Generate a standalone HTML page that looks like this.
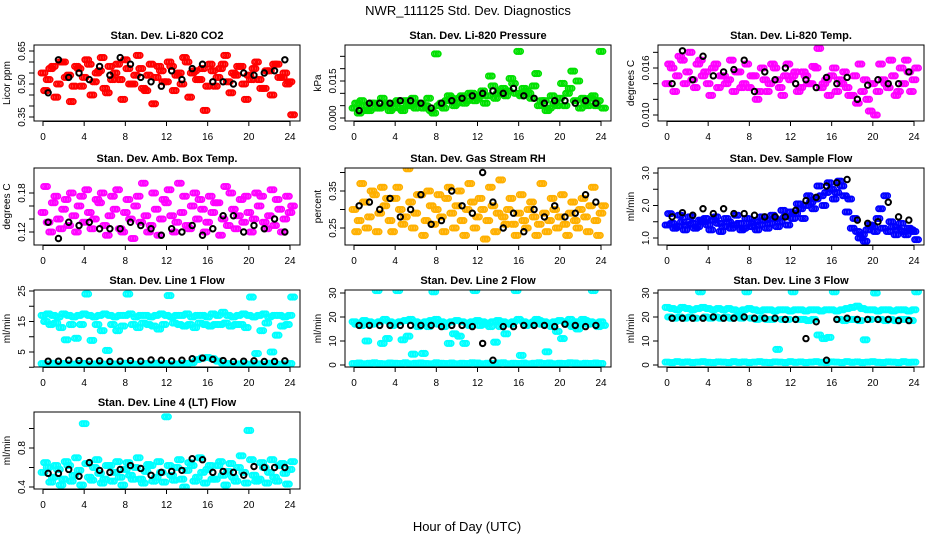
<!DOCTYPE html>
<html><head><meta charset="utf-8"><style>
html,body{margin:0;padding:0;background:#fff}
svg{display:block;font-family:"Liberation Sans",sans-serif}
</style></head><body>
<svg id="chart" width="936" height="540" viewBox="0 0 936 540" xmlns="http://www.w3.org/2000/svg">
<rect width="936" height="540" fill="#fff"/>
<text x="468" y="15" text-anchor="middle" font-size="13">NWR_111125  Std. Dev. Diagnostics</text>
<text x="467" y="531" text-anchor="middle" font-size="13">Hour of Day (UTC)</text>
</svg>
<script>
const xTicks=[0,4,8,12,16,20,24];
const titles=["Stan. Dev. Li-820 CO2","Stan. Dev. Li-820 Pressure","Stan. Dev. Li-820 Temp.","Stan. Dev. Amb. Box Temp.","Stan. Dev. Gas Stream RH","Stan. Dev. Sample Flow","Stan. Dev. Line 1 Flow","Stan. Dev. Line 2 Flow","Stan. Dev. Line 3 Flow","Stan. Dev. Line 4 (LT) Flow"];
const yTitles=["Licor ppm","kPa","degrees C","degrees C","percent","ml/min","ml/min","ml/min","ml/min","ml/min"];
const yTickVals=[[0.35,0.40,0.45,0.50,0.55,0.60,0.65],[0,0.005,0.010,0.015,0.020,0.025],[0.010,0.012,0.014,0.016,0.018],[0.12,0.14,0.16,0.18],[0.25,0.30,0.35,0.40],[1.0,1.5,2.0,2.5,3.0],[0,5,10,15,20,25],[0,10,20,30],[0,10,20,30],[0.4,0.6,0.8,1.0]];
const yTickLabels=[["0.35","","","0.50","","","0.65"],["0.000","","","0.015","",""],["0.010","","","0.016",""],["0.12","","","0.18"],["0.25","","0.35",""],["1.0","","2.0","","3.0"],["","5","","15","","25"],["0","10","20","30"],["0","10","20","30"],["0.4","","0.8",""]];
const colors=["#ff0000","#00e000","#ff00ff","#ff00ff","#ffb000","#0000ff","#00ffff","#00ffff","#00ffff","#00ffff"];
// colored series A/B/C: t = 0..24 step 0.5 ; black: t = 0.5..23.5 hourly
const seriesA=[
[0.55,0.52,0.58,0.50,0.60,0.54,0.49,0.57,0.53,0.59,0.51,0.56,0.48,0.58,0.55,0.52,0.61,0.50,0.54,0.57,0.47,0.59,0.53,0.56,0.51,0.58,0.54,0.50,0.60,0.55,0.52,0.57,0.49,0.56,0.53,0.59,0.51,0.55,0.58,0.50,0.54,0.57,0.52,0.48,0.56,0.59,0.53,0.55,0.51],
[0.004,0.002,0.005,0.003,0.006,0.004,0.005,0.003,0.006,0.004,0.007,0.005,0.004,0.006,0.005,0.003,0.026,0.006,0.007,0.008,0.006,0.009,0.007,0.010,0.008,0.011,0.009,0.013,0.010,0.012,0.011,0.014,0.027,0.012,0.010,0.013,0.005,0.007,0.004,0.006,0.008,0.005,0.012,0.007,0.004,0.006,0.008,0.005,0.027],
[0.0140,0.0160,0.0150,0.0170,0.0155,0.0145,0.0165,0.0150,0.0140,0.0160,0.0135,0.0150,0.0145,0.0130,0.0155,0.0140,0.0135,0.0150,0.0130,0.0145,0.0140,0.0160,0.0135,0.0150,0.0145,0.0155,0.0135,0.0150,0.0140,0.0160,0.0135,0.0145,0.0150,0.0130,0.0140,0.0135,0.0125,0.0115,0.0130,0.0120,0.0140,0.0130,0.0145,0.0135,0.0150,0.0130,0.0140,0.0155,0.0145],
[0.150,0.135,0.165,0.140,0.155,0.130,0.145,0.160,0.135,0.150,0.140,0.165,0.130,0.145,0.155,0.125,0.150,0.140,0.160,0.135,0.145,0.130,0.155,0.140,0.165,0.145,0.135,0.150,0.130,0.160,0.140,0.155,0.135,0.150,0.165,0.140,0.130,0.155,0.145,0.135,0.150,0.140,0.160,0.135,0.145,0.130,0.155,0.140,0.150],
[0.30,0.27,0.32,0.28,0.34,0.29,0.31,0.27,0.33,0.30,0.28,0.32,0.29,0.34,0.27,0.31,0.30,0.28,0.33,0.29,0.31,0.27,0.30,0.32,0.28,0.30,0.27,0.31,0.29,0.28,0.30,0.26,0.29,0.27,0.30,0.28,0.26,0.29,0.27,0.30,0.28,0.26,0.29,0.27,0.30,0.28,0.31,0.27,0.29],
[1.40,1.45,1.35,1.50,1.40,1.45,1.35,1.50,1.40,1.55,1.45,1.35,1.50,1.40,1.45,1.30,1.45,1.50,1.40,1.55,1.45,1.60,1.50,1.65,1.80,1.75,1.90,2.00,2.10,2.20,2.30,2.40,2.50,2.40,2.60,1.80,1.30,1.20,1.10,1.25,1.35,1.60,1.30,1.20,1.35,1.25,1.20,1.30,1.20],
[17,17.5,17,16.5,17.5,17,16.5,17,17.5,17,16.5,17,17.5,17,16.5,17,17,17.5,16.5,17,17,16.5,17,17.5,17,16.5,17,17,17.5,16.5,17,17,16.5,17.5,17,18,17,16.5,17,17.5,17,16.5,17,17.5,16.5,17,17,16.5,17],
[18,17.5,18.5,18,17.5,18,19,18,17.5,18,18.5,19,18,17.5,18,18.5,19,18,17.5,18,18.5,18,17.5,18,18.5,18,17.5,18,18.5,18,17.5,18,19,18,17.5,18,18.5,18,17.5,18,18.5,18,19,18,17.5,18.5,18,17.5,18],
[24,23.5,23,24,23.5,23,23.5,24,23.5,23,23.5,23,23.5,23,22.5,23,23.5,23,22.5,23,23,22.5,23,23,22.5,23,23,22.5,23,23,22.5,23,23,22.5,23,23.5,24,24.5,23.5,23,23,22.5,23,23,22.5,23,23,22.5,23],
[0.55,0.60,0.50,0.58,0.48,0.62,0.52,0.57,1.05,0.50,0.60,0.54,0.48,0.62,0.55,0.50,0.58,0.52,0.60,0.48,0.56,0.62,0.50,0.55,1.12,0.52,0.60,0.48,0.57,0.62,0.50,0.55,0.58,0.48,0.62,0.52,0.56,0.50,0.60,0.55,0.98,0.52,0.48,0.60,0.55,0.50,0.62,0.54,0.58]];
const seriesB=[
[0.47,0.57,0.44,0.60,0.53,0.42,0.58,0.49,0.61,0.45,0.55,0.62,0.46,0.52,0.59,0.43,0.57,0.50,0.63,0.48,0.54,0.41,0.58,0.51,0.60,0.47,0.55,0.62,0.44,0.56,0.52,0.38,0.59,0.49,0.57,0.63,0.46,0.54,0.58,0.43,0.52,0.60,0.48,0.56,0.45,0.59,0.53,0.50,0.36],
[0.006,0.007,0.003,0.006,0.004,0.008,0.006,0.004,0.007,0.003,0.005,0.008,0.006,0.004,0.008,0.002,0.005,0.004,0.009,0.005,0.008,0.006,0.010,0.007,0.009,0.006,0.017,0.008,0.011,0.009,0.016,0.010,0.009,0.011,0.008,0.018,0.007,0.003,0.009,0.005,0.014,0.010,0.019,0.015,0.008,0.005,0.009,0.007,0.004],
[0.0165,0.0130,0.0175,0.0140,0.0180,0.0135,0.0170,0.0155,0.0125,0.0165,0.0150,0.0140,0.0170,0.0155,0.0135,0.0165,0.0150,0.0120,0.0160,0.0130,0.0165,0.0145,0.0125,0.0165,0.0150,0.0130,0.0155,0.0140,0.0162,0.0185,0.0140,0.0125,0.0160,0.0145,0.0155,0.0125,0.0150,0.0165,0.0145,0.0105,0.0100,0.0165,0.0140,0.0170,0.0125,0.0160,0.0170,0.0130,0.0160],
[0.190,0.120,0.175,0.125,0.170,0.180,0.120,0.175,0.185,0.125,0.170,0.180,0.115,0.175,0.185,0.120,0.170,0.110,0.175,0.195,0.120,0.180,0.115,0.170,0.185,0.120,0.195,0.175,0.125,0.180,0.170,0.120,0.175,0.165,0.115,0.190,0.180,0.125,0.170,0.175,0.120,0.180,0.175,0.125,0.185,0.170,0.120,0.175,0.160],
[0.24,0.37,0.25,0.35,0.24,0.36,0.33,0.24,0.36,0.26,0.41,0.25,0.34,0.23,0.35,0.26,0.34,0.24,0.36,0.25,0.35,0.23,0.37,0.25,0.33,0.22,0.36,0.24,0.38,0.26,0.33,0.23,0.34,0.25,0.32,0.23,0.37,0.24,0.33,0.25,0.34,0.23,0.32,0.25,0.33,0.24,0.36,0.23,0.31],
[1.75,1.30,1.70,1.25,1.65,1.30,1.55,1.60,1.25,1.65,1.20,1.60,1.30,1.70,1.25,1.60,1.35,1.25,1.65,1.30,1.70,1.35,1.85,1.40,1.60,2.05,1.60,2.30,1.90,2.60,2.00,2.70,2.20,2.75,2.30,2.20,1.60,1.00,0.90,1.40,1.20,1.90,2.30,1.50,1.10,1.45,1.10,1.25,0.95],
[15,14,14.5,13,9,14,9.5,14,24,8.8,14,12,5.5,14,12,13.5,24,14,13,14.5,14,13.5,12.5,14,23.5,14.5,14,13.5,14,13,14.5,14,13.5,14,14,14.5,13.5,14,14,13,23,4.5,12,14.5,5,10.5,13.5,14,23],
[17,16.5,10,17,31,9,11,16.5,31,10.5,12,4.5,16,4.8,16,30.5,17,16,9,13,12,9,16.5,31,16.5,17,16,9.5,16,13,17,31,4,16.5,17,19,17,5.5,16,14,11,17,16,15,19,17,31,16,16.5],
[20,19.5,20,19.5,20,19.5,30.5,20,19.5,20,19.5,20,19.5,20,19.5,30.5,19.5,19,19.5,19,19,6.5,19,19,30.5,19,19,18.5,19,12.5,11,11.5,30.5,19,18.5,19,19,18.5,10.5,19,30,19,18.5,19,18.5,19,19,18.5,30.5],
[0.65,0.45,0.62,0.42,0.66,0.46,0.70,0.42,0.64,0.47,0.68,0.44,0.62,0.46,0.66,0.42,0.65,0.48,0.70,0.44,0.63,0.46,0.66,0.45,0.62,0.47,0.68,0.40,0.65,0.46,0.70,0.44,0.62,0.48,0.66,0.42,0.64,0.46,0.72,0.44,0.68,0.46,0.65,0.44,0.68,0.46,0.64,0.43,0.66]];
const seriesC=[null,null,null,null,null,null,
[1.2,1,1.3,1,1.2,1.1,1,1.3,1.2,1,1.1,1.3,1,1.2,1.1,1,1.3,1.2,1,1.1,1.2,1,1.3,1.1,1.2,1,1.1,1.3,1.2,1.5,2.5,3,3.2,2.8,2,1.3,1.2,1,1.1,1.3,1,1.2,1.1,1,1.3,1.2,1,1.1,1.2],
[0.6,0.8,0.5,0.7,0.9,0.6,0.5,0.8,0.7,0.6,0.9,0.5,0.7,0.8,0.6,0.5,0.9,0.7,0.6,0.8,0.5,0.7,0.6,0.9,0.8,0.5,0.7,0.6,0.8,0.9,0.5,0.7,0.6,0.8,0.5,0.7,0.9,0.6,0.8,0.5,0.7,0.6,0.9,0.8,0.5,0.7,0.6,0.8,0.6],
[1.2,1,1.4,1.1,1.3,1,1.2,1.4,1.1,1,1.3,1.2,1,1.4,1.1,1.3,1,1.2,1.4,1.1,1,1.3,1.2,1,1.4,1.1,1.3,1,1.2,1.4,1.1,1,1.3,1.2,1,1.4,1.1,1.3,1,1.2,1.4,1.1,1,1.3,1.2,1,1.4,1.1,1.2],
null];
const seriesBlack=[
[0.46,0.61,0.53,0.55,0.52,0.58,0.54,0.62,0.59,0.53,0.51,0.49,0.56,0.52,0.57,0.59,0.51,0.51,0.50,0.55,0.54,0.55,0.56,0.61],
[0.003,0.006,0.006,0.006,0.007,0.007,0.006,0.004,0.006,0.007,0.008,0.009,0.010,0.011,0.010,0.012,0.009,0.008,0.006,0.007,0.007,0.006,0.007,0.006],
[0.0140,0.0182,0.0145,0.0175,0.0150,0.0155,0.0158,0.0170,0.0130,0.0155,0.0145,0.0160,0.0140,0.0145,0.0135,0.0148,0.0140,0.0148,0.0120,0.0138,0.0145,0.0140,0.0140,0.0155],
[0.135,0.110,0.135,0.130,0.135,0.125,0.125,0.125,0.135,0.130,0.125,0.115,0.125,0.120,0.130,0.115,0.125,0.145,0.145,0.120,0.130,0.125,0.140,0.120],
[0.31,0.32,0.30,0.33,0.28,0.30,0.34,0.26,0.27,0.35,0.31,0.29,0.40,0.32,0.25,0.29,0.24,0.30,0.28,0.31,0.28,0.29,0.34,0.32],
[1.65,1.78,1.70,1.90,1.75,1.90,1.75,1.75,1.70,1.65,1.65,1.65,1.85,2.15,2.25,2.60,2.70,2.80,1.55,1.45,1.50,2.10,1.65,1.55],
[2,2,2.3,2.2,2,2.1,1.9,2,2.2,2,2.4,2.3,2.1,2.3,2.8,3,2.6,2.2,1.9,2,2.1,1.9,1.9,2.1],
[16.5,16.5,16.5,16.5,16.5,16.5,16.5,16.5,16,16.5,16.5,16,9,2,16,16,16.5,16.5,16.5,16,17,16.5,16,16.5],
[19.5,19.5,19.5,19.5,20,19.5,19.5,20,19.5,19.5,19.5,19,19,11,18,2,19,19.5,19,19,19,19,18.5,18.5],
[0.54,0.54,0.58,0.51,0.65,0.57,0.55,0.58,0.62,0.59,0.52,0.55,0.56,0.57,0.69,0.68,0.55,0.56,0.55,0.52,0.61,0.60,0.60,0.60]];

const NS="http://www.w3.org/2000/svg";
const svg=document.getElementById('chart');
const colLeft=[34,345,658], boxW=266;
const rows=[[45,121],[168,245],[290,367],[412,489]];
const yCal=[[0.35,117,0.65,51],[0,118,0.015,81],[0.010,115,0.016,68],[0.12,232,0.18,193],[0.25,228,0.35,191],[1.0,238,3.0,173],[5,352,25,291],[0,365,30,293],[0,365,30,293],[0.4,487,0.8,448]];
const smear=[-0.18,0,0.18];
function mk(tag,attrs,parent){const e=document.createElementNS(NS,tag);for(const k in attrs)e.setAttribute(k,attrs[k]);(parent||svg).appendChild(e);return e;}
for(let p=0;p<10;p++){
  const c=p%3,r=Math.floor(p/3),L=colLeft[c],T=rows[r][0],B=rows[r][1];
  const xS=t=>L+9+t*247/24;
  const k=yCal[p];const yS=v=>k[1]+(v-k[0])*(k[3]-k[1])/(k[2]-k[0]);
  const g=mk('g',{});
  
  
  const clip=mk('clipPath',{id:'cl'+p},g);mk('rect',{x:L,y:T,width:boxW,height:B-T},clip);
  const pts=mk('g',{'clip-path':'url(#cl'+p+')',fill:'none','stroke-width':1.7},g);
  [seriesA[p],seriesB[p],seriesC[p]].forEach((arr,si)=>{
    if(!arr)return;
    arr.forEach((v,i)=>{
      const t0=i*0.5+(si===1?0.25:0);
      smear.forEach(d=>{
        const ci=mk('circle',{cx:xS(t0+d),cy:yS(v),r:2.7,stroke:colors[p]},pts);
        
        
      });
    });
  });
  seriesBlack[p].forEach((v,i)=>{
    const ci=mk('circle',{cx:xS(i+0.5),cy:yS(v),r:2.7,stroke:'#000','stroke-width':2},pts);
    
    
  });
  const box=mk('rect',{x:L,y:T,width:boxW,height:B-T,fill:'none',stroke:'#000','stroke-width':1},g);
  
  
  const tt=mk('text',{x:L+boxW/2,y:T-6,'text-anchor':'middle','font-size':11,'font-weight':'bold'},g);
  tt.textContent=titles[p];
  
  
  xTicks.forEach(t=>{
    mk('line',{x1:xS(t),x2:xS(t),y1:B,y2:B+5,stroke:'#000'},g);
    const tx=mk('text',{x:xS(t),y:B+19,'text-anchor':'middle','font-size':10},g);
    tx.textContent=t;
    
    
  });
  mk('line',{x1:xS(0),x2:xS(24),y1:B+0.5,y2:B+0.5,stroke:'#000'},g);
  yTickVals[p].forEach((v,i)=>{
    const y=yS(v);
    mk('line',{x1:L-5,x2:L,y1:y,y2:y,stroke:'#000'},g);
    if(yTickLabels[p][i]){
      const ty=mk('text',{x:L-9,y:y,'text-anchor':'middle','font-size':10,transform:'rotate(-90 '+(L-9)+' '+y+')'},g);
      ty.textContent=yTickLabels[p][i];
      
      
    }
  });
  const yc=(T+B)/2;
  const yt=mk('text',{x:L-24,y:yc,'text-anchor':'middle','font-size':10,transform:'rotate(-90 '+(L-24)+' '+yc+')'},g);
  yt.textContent=yTitles[p];
  
  
}
</script>
</body></html>
